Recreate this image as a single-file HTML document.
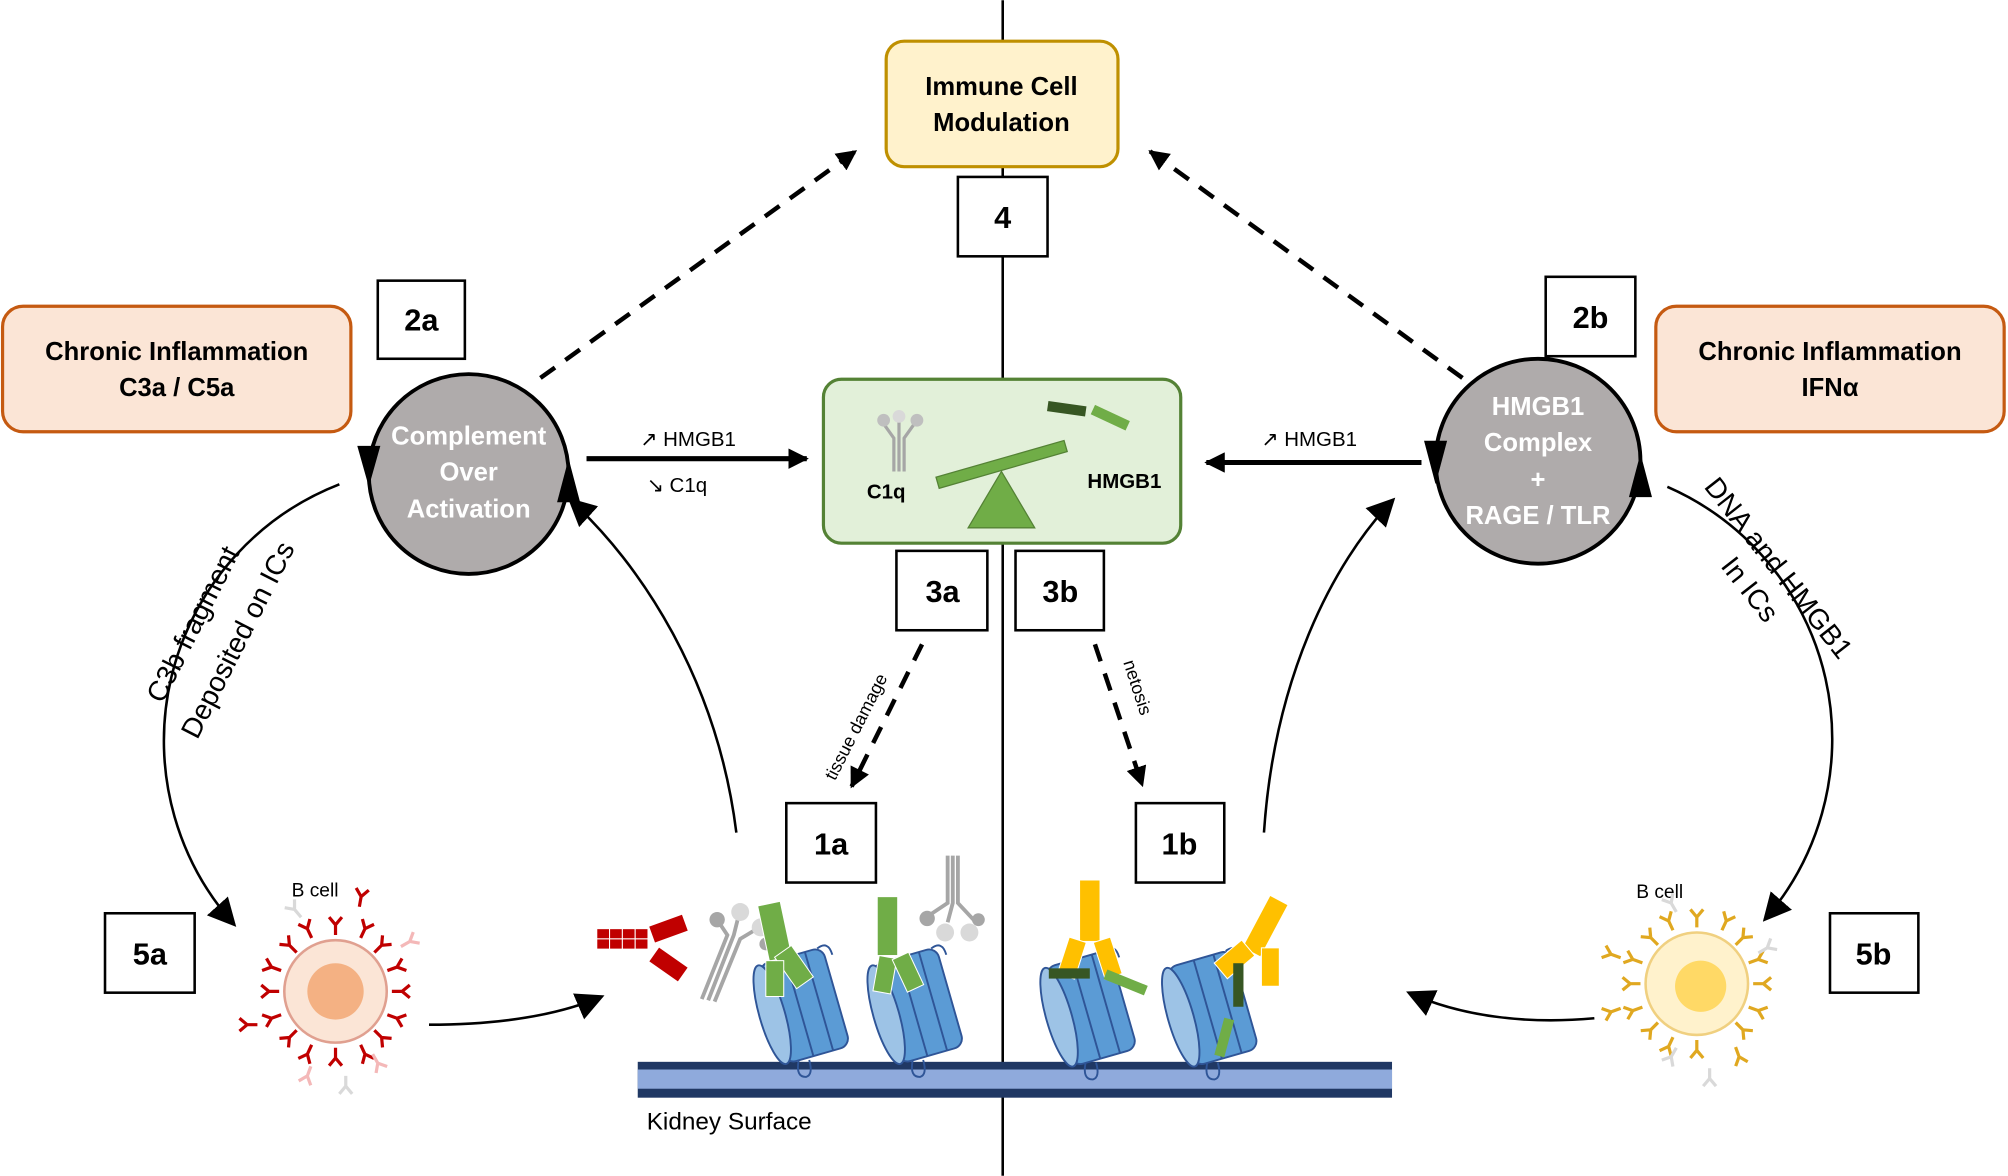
<!DOCTYPE html>
<html><head><meta charset="utf-8"><style>
html,body{margin:0;padding:0;background:#fff;}
svg{display:block;}
text{font-family:"Liberation Sans","DejaVu Sans",sans-serif;}
.b{font-weight:bold;}
</style></head><body>
<svg width="2008" height="1176" viewBox="0 0 1568 918" xmlns="http://www.w3.org/2000/svg">
<defs>
<marker id="a" viewBox="0 0 10 10" refX="9" refY="5" markerWidth="22" markerHeight="22" orient="auto" markerUnits="userSpaceOnUse"><path d="M0,0 L10,5 L0,10 z" fill="#000"/></marker>
<marker id="as" viewBox="0 0 10 10" refX="9" refY="5" markerWidth="16" markerHeight="16" orient="auto" markerUnits="userSpaceOnUse"><path d="M0,0 L10,5 L0,10 z" fill="#000"/></marker>
<g id="nuc">
<rect x="-26" y="-40" width="52" height="80" rx="8" fill="#5b9bd5" stroke="#2f5597" stroke-width="1.5"/>
<ellipse cx="-26" cy="0" rx="10" ry="40" fill="#9dc3e6" stroke="#2f5597" stroke-width="1.5"/>
<line x1="-4" y1="-40" x2="-4" y2="40" stroke="#2f5597" stroke-width="1.5"/>
<line x1="12" y1="-40" x2="12" y2="40" stroke="#2f5597" stroke-width="1.5"/>
<path d="M-16,40 q-6,12 2,14 q6,0 6,-12" fill="none" stroke="#2f5597" stroke-width="1.5"/>
<path d="M22,-40 q10,-4 10,8" fill="none" stroke="#2f5597" stroke-width="1.5"/>
</g>
<g id="sab"><path d="M0,0 v8 M0,0 l-5,-6 M0,0 l5,-6" stroke="currentColor" stroke-width="2.5" fill="none"/></g>
</defs>

<line x1="783" y1="0" x2="783" y2="918" stroke="#000" stroke-width="2"/>

<rect x="498" y="829" width="589" height="28" fill="#203864"/>
<rect x="498" y="835" width="589" height="15" fill="#8faadc"/>
<text x="505" y="882" font-size="19">Kidney Surface</text>

<rect x="692" y="32" width="181" height="98" rx="14" fill="#fff2cc" stroke="#bf9000" stroke-width="2.5"/>
<text x="782" y="74" font-size="20" class="b" text-anchor="middle">Immune Cell</text>
<text x="782" y="102" font-size="20" class="b" text-anchor="middle">Modulation</text>

<rect x="2" y="239" width="272" height="98" rx="16" fill="#fbe5d6" stroke="#c55a11" stroke-width="2.5"/>
<text x="138" y="281" font-size="20" class="b" text-anchor="middle">Chronic Inflammation</text>
<text x="138" y="309" font-size="20" class="b" text-anchor="middle">C3a / C5a</text>
<rect x="1293" y="239" width="272" height="98" rx="16" fill="#fbe5d6" stroke="#c55a11" stroke-width="2.5"/>
<text x="1429" y="281" font-size="20" class="b" text-anchor="middle">Chronic Inflammation</text>
<text x="1429" y="309" font-size="20" class="b" text-anchor="middle">IFNα</text>

<g fill="#fff" stroke="#000" stroke-width="2">
<rect x="748" y="138" width="70" height="62"/>
<rect x="295" y="219" width="68" height="61"/>
<rect x="1207" y="216" width="70" height="62"/>
<rect x="700" y="430" width="71" height="62"/>
<rect x="793" y="430" width="69" height="62"/>
<rect x="614" y="627" width="70" height="62"/>
<rect x="887" y="627" width="69" height="62"/>
<rect x="82" y="713" width="70" height="62"/>
<rect x="1429" y="713" width="69" height="62"/>
</g>
<g font-size="24" class="b" text-anchor="middle">
<text x="783" y="178">4</text>
<text x="329" y="258">2a</text>
<text x="1242" y="256">2b</text>
<text x="736" y="470">3a</text>
<text x="828" y="470">3b</text>
<text x="649" y="667">1a</text>
<text x="921" y="667">1b</text>
<text x="117" y="753">5a</text>
<text x="1463" y="753">5b</text>
</g>

<circle cx="366" cy="370" r="78" fill="#afabab" stroke="#000" stroke-width="3"/>
<text fill="#fff" font-size="20" class="b" text-anchor="middle"><tspan x="366" y="347">Complement</tspan><tspan x="366" y="375">Over</tspan><tspan x="366" y="404">Activation</tspan></text>
<path d="M279,348 L297,348 L288,380 z" fill="#000"/>
<path d="M435,392 L453,392 L444,358 z" fill="#000"/>
<circle cx="1201" cy="360" r="80" fill="#afabab" stroke="#000" stroke-width="3"/>
<text fill="#fff" font-size="20" class="b" text-anchor="middle"><tspan x="1201" y="324">HMGB1</tspan><tspan x="1201" y="352">Complex</tspan><tspan x="1201" y="381">+</tspan><tspan x="1201" y="409">RAGE / TLR</tspan></text>
<path d="M1112,344 L1130,344 L1121,378 z" fill="#000"/>
<path d="M1272,388 L1290,388 L1281,354 z" fill="#000"/>

<rect x="643" y="296" width="279" height="128" rx="14" fill="#e2f0d9" stroke="#548235" stroke-width="2.5"/>
<text x="692" y="389" font-size="16" class="b" text-anchor="middle">C1q</text>
<text x="878" y="381" font-size="16" class="b" text-anchor="middle">HMGB1</text>
<path d="M782,368 L808,412 L756,412 z" fill="#70ad47" stroke="#548235"/>
<rect x="730" y="358" width="104" height="9" fill="#70ad47" stroke="#548235" transform="rotate(-16 782 362)"/>
<g stroke="#a6a6a6" stroke-width="2.5" fill="none"><path d="M698,368 V342 l-10,-14 M702,368 V342 l0,-16 M706,368 V342 l10,-14"/></g>
<circle cx="690" cy="328" r="5" fill="#bfbfbf"/><circle cx="702" cy="325" r="5" fill="#d9d9d9"/><circle cx="716" cy="328" r="5" fill="#bfbfbf"/>
<rect x="818" y="315" width="30" height="8" fill="#375623" transform="rotate(8 833 319)"/>
<rect x="852" y="322" width="30" height="8" fill="#70ad47" transform="rotate(25 867 326)"/>

<line x1="458" y1="358" x2="630" y2="358" stroke="#000" stroke-width="4" marker-end="url(#as)"/>
<text x="500" y="348" font-size="16">↗ HMGB1</text>
<text x="505" y="384" font-size="16">↘ C1q</text>
<line x1="1110" y1="361" x2="942" y2="361" stroke="#000" stroke-width="4" marker-end="url(#as)"/>
<text x="985" y="348" font-size="16">↗ HMGB1</text>

<g stroke="#000" stroke-width="3.5" stroke-dasharray="14,10" fill="none">
<line x1="422" y1="295" x2="668" y2="118" marker-end="url(#as)"/>
<line x1="1142" y1="295" x2="898" y2="118" marker-end="url(#as)"/>
<line x1="720" y1="503" x2="665" y2="614" marker-end="url(#as)"/>
<line x1="855" y1="503" x2="892" y2="613" marker-end="url(#as)"/>
</g>
<text font-size="14" transform="translate(652,610) rotate(-63)">tissue damage</text>
<text font-size="14" transform="translate(877,517) rotate(72)">netosis</text>

<g stroke="#000" stroke-width="2" fill="none">
<path d="M265,378 A215,215 0 0,0 183,722" marker-end="url(#a)"/>
<path d="M575,650 C560,530 500,440 445,390" marker-end="url(#a)"/>
<path d="M987,650 C995,530 1040,440 1088,390" marker-end="url(#a)"/>
<path d="M1302,380 A215,215 0 0,1 1378,718" marker-end="url(#a)"/>
<path d="M335,800 C380,800 430,795 470,778" marker-end="url(#a)"/>
<path d="M1245,795 C1190,800 1140,793 1100,775" marker-end="url(#a)"/>
</g>
<text font-size="22" transform="translate(127,550) rotate(-63)">C3b fragment</text>
<text font-size="22" transform="translate(154,578) rotate(-63)">Deposited on ICs</text>
<text font-size="22" transform="translate(1330,380) rotate(52)">DNA and HMGB1</text>
<text font-size="22" transform="translate(1343,442) rotate(52)">In ICs</text>

<text x="246" y="700" font-size="15" text-anchor="middle">B cell</text>
<circle cx="262" cy="774" r="40" fill="#fbe5d6" stroke="#e0a090" stroke-width="2"/>
<circle cx="262" cy="774" r="22" fill="#f4b183"/>
<g color="#c00000">
<use href="#sab" transform="translate(262,722) rotate(0)"/><use href="#sab" transform="translate(298,738) rotate(45)"/><use href="#sab" transform="translate(314,774) rotate(90)"/><use href="#sab" transform="translate(298,810) rotate(135)"/><use href="#sab" transform="translate(262,826) rotate(180)"/><use href="#sab" transform="translate(226,810) rotate(225)"/><use href="#sab" transform="translate(210,774) rotate(270)"/><use href="#sab" transform="translate(226,738) rotate(315)"/>
<use href="#sab" transform="translate(240,725) rotate(-25)"/><use href="#sab" transform="translate(285,725) rotate(25)"/><use href="#sab" transform="translate(310,755) rotate(70)"/><use href="#sab" transform="translate(310,795) rotate(110)"/><use href="#sab" transform="translate(240,823) rotate(205)"/><use href="#sab" transform="translate(212,795) rotate(250)"/><use href="#sab" transform="translate(212,755) rotate(290)"/><use href="#sab" transform="translate(285,823) rotate(155)"/>
<use href="#sab" transform="translate(282,700) rotate(10)"/><use href="#sab" transform="translate(193,800) rotate(270)"/>
</g>
<g color="#f4b8b8"><use href="#sab" transform="translate(320,735) rotate(60)"/><use href="#sab" transform="translate(295,830) rotate(150)"/><use href="#sab" transform="translate(240,840) rotate(200)"/></g>
<g color="#d9d9d9"><use href="#sab" transform="translate(230,710) rotate(-40)"/><use href="#sab" transform="translate(270,848) rotate(180)"/></g>

<text x="1296" y="701" font-size="15" text-anchor="middle">B cell</text>
<circle cx="1325" cy="768" r="40" fill="#fff2cc" stroke="#f0d080" stroke-width="2"/>
<circle cx="1328" cy="770" r="20" fill="#ffd966"/>
<g color="#e0a820">
<use href="#sab" transform="translate(1325,716) rotate(0)"/><use href="#sab" transform="translate(1361,732) rotate(45)"/><use href="#sab" transform="translate(1377,768) rotate(90)"/><use href="#sab" transform="translate(1361,804) rotate(135)"/><use href="#sab" transform="translate(1325,820) rotate(180)"/><use href="#sab" transform="translate(1289,804) rotate(225)"/><use href="#sab" transform="translate(1273,768) rotate(270)"/><use href="#sab" transform="translate(1289,732) rotate(315)"/>
<use href="#sab" transform="translate(1303,719) rotate(-25)"/><use href="#sab" transform="translate(1348,719) rotate(25)"/><use href="#sab" transform="translate(1373,749) rotate(70)"/><use href="#sab" transform="translate(1373,789) rotate(110)"/><use href="#sab" transform="translate(1303,817) rotate(205)"/><use href="#sab" transform="translate(1275,789) rotate(250)"/><use href="#sab" transform="translate(1275,749) rotate(290)"/><use href="#sab" transform="translate(1358,825) rotate(160)"/><use href="#sab" transform="translate(1258,745) rotate(290)"/><use href="#sab" transform="translate(1258,790) rotate(250)"/>
</g>
<g color="#d9d9d9"><use href="#sab" transform="translate(1305,705) rotate(-30)"/><use href="#sab" transform="translate(1380,740) rotate(60)"/><use href="#sab" transform="translate(1335,842) rotate(180)"/><use href="#sab" transform="translate(1305,825) rotate(210)"/></g>

<use href="#nuc" transform="translate(628,785) rotate(-16)"/>
<use href="#nuc" transform="translate(717,785) rotate(-16)"/>
<use href="#nuc" transform="translate(852,787) rotate(-16)"/>
<use href="#nuc" transform="translate(947,787) rotate(-16)"/>

<g fill="#c00000" stroke="#fff" stroke-width="0.8">
<rect x="466" y="725" width="10" height="8"/><rect x="476" y="725" width="10" height="8"/><rect x="486" y="725" width="10" height="8"/><rect x="496" y="725" width="10" height="8"/>
<rect x="466" y="733" width="10" height="8"/><rect x="476" y="733" width="10" height="8"/><rect x="486" y="733" width="10" height="8"/><rect x="496" y="733" width="10" height="8"/>
<rect x="508" y="718" width="28" height="14" transform="rotate(-20 522 725)"/>
<rect x="508" y="746" width="28" height="14" transform="rotate(35 522 753)"/>
</g>
<g stroke="#a6a6a6" stroke-width="3" fill="none"><path d="M548,780 L568,730 L560,718 M553,781 L573,730 L577,714 M558,782 L578,733 L593,724"/></g>
<circle cx="560" cy="718" r="6" fill="#a6a6a6"/><circle cx="578" cy="712" r="7" fill="#d9d9d9"/><circle cx="594" cy="724" r="7" fill="#d9d9d9"/><circle cx="598" cy="737" r="5" fill="#a6a6a6"/>
<g fill="#70ad47" stroke="#fff" stroke-width="0.8">
<rect x="596" y="705" width="18" height="44" transform="rotate(-12 605 727)"/>
<rect x="612" y="740" width="16" height="30" transform="rotate(-35 620 755)"/>
<rect x="598" y="750" width="14" height="28"/>
<rect x="685" y="700" width="16" height="46"/>
<rect x="684" y="747" width="14" height="28" transform="rotate(10 691 761)"/>
<rect x="702" y="745" width="14" height="28" transform="rotate(-25 709 759)"/>
</g>
<g stroke="#a6a6a6" stroke-width="3" fill="none"><path d="M740,668 V705 L725,715 M744,668 V705 L740,720 M748,668 V705 L762,720"/></g>
<circle cx="724" cy="717" r="6" fill="#a6a6a6"/><circle cx="738" cy="728" r="7" fill="#d9d9d9"/><circle cx="757" cy="728" r="7" fill="#d9d9d9"/><circle cx="764" cy="718" r="5" fill="#a6a6a6"/>
<g fill="#ffc000" stroke="#fff" stroke-width="0.8">
<rect x="843" y="687" width="16" height="48"/>
<rect x="830" y="733" width="14" height="30" transform="rotate(18 837 748)"/>
<rect x="858" y="733" width="14" height="30" transform="rotate(-18 865 748)"/>
<rect x="980" y="700" width="16" height="46" transform="rotate(28 988 723)"/>
<rect x="956" y="735" width="16" height="28" transform="rotate(50 964 749)"/>
<rect x="985" y="740" width="14" height="30"/>
</g>
<rect x="819" y="756" width="32" height="8" fill="#375623"/>
<rect x="862" y="763" width="34" height="8" fill="#70ad47" transform="rotate(22 879 767)"/>
<rect x="963" y="752" width="8" height="34" fill="#375623"/>
<rect x="952" y="795" width="8" height="30" fill="#70ad47" transform="rotate(15 956 810)"/>
</svg>
</body></html>
